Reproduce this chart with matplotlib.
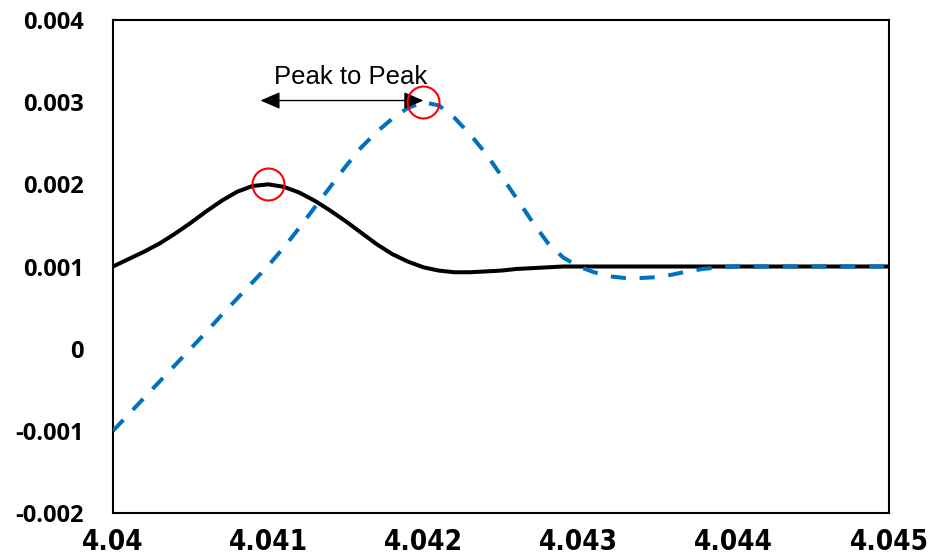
import matplotlib
matplotlib.use("Agg")
import matplotlib.pyplot as plt

# Time axis (s) and responses
t_ref = [4.0400, 4.0401, 4.0402, 4.0403, 4.0404, 4.0405, 4.0406, 4.0407, 4.0408,
         4.0409, 4.0410, 4.0411, 4.0412, 4.0413, 4.0414, 4.0415, 4.0416, 4.0417,
         4.0418, 4.0419, 4.0420, 4.0421, 4.0422, 4.0423, 4.0424, 4.0425, 4.0426,
         4.0427, 4.0428, 4.0429, 4.0430, 4.0450]
y_ref = [0.00100, 0.00109, 0.00118, 0.00128, 0.00140, 0.00153, 0.00167, 0.00180,
         0.00191, 0.00198, 0.00200, 0.00197, 0.00190, 0.00180, 0.00168, 0.00155,
         0.00141, 0.00127, 0.00115, 0.00106, 0.00099, 0.00095, 0.00093, 0.00093,
         0.00094, 0.00095, 0.00097, 0.00098, 0.00099, 0.00100, 0.00100, 0.00100]

t_resp = [4.0400, 4.0401, 4.0402, 4.0403, 4.0404, 4.0405, 4.0406, 4.0407, 4.0408,
          4.0409, 4.0410, 4.0411, 4.0412, 4.0413, 4.0414, 4.0415, 4.0416, 4.0417,
          4.0418, 4.0419, 4.0420, 4.0421, 4.0422, 4.0423, 4.0424, 4.0425, 4.0426,
          4.0427, 4.0428, 4.0429, 4.0430, 4.0431, 4.0432, 4.0433, 4.0434, 4.0435,
          4.0436, 4.0437, 4.0438, 4.0439, 4.0440, 4.0450]
y_resp = [-0.00100, -0.00080, -0.00060, -0.00040, -0.00020, 0.00000, 0.00020,
          0.00041, 0.00061, 0.00081, 0.00101, 0.00123, 0.00147, 0.00172, 0.00197,
          0.00222, 0.00245, 0.00264, 0.00280, 0.00293, 0.00300, 0.00296, 0.00281,
          0.00261, 0.00238, 0.00211, 0.00183, 0.00155, 0.00129, 0.00111, 0.00100,
          0.00093, 0.00088, 0.00086, 0.00086, 0.00087, 0.00090, 0.00094, 0.00097,
          0.00099, 0.00100, 0.00100]

# Peak locations
peaks_t = [4.041, 4.042]
peaks_y = [0.002, 0.003]

x_ticks = [4.040, 4.041, 4.042, 4.043, 4.044, 4.045]
x_labels = ["4.04", "4.041", "4.042", "4.043", "4.044", "4.045"]
y_ticks = [-0.002, -0.001, 0.0, 0.001, 0.002, 0.003, 0.004]
y_labels = ["-0.002", "-0.001", "0", "0.001", "0.002", "0.003", "0.004"]

fig = plt.figure(figsize=(9.29, 5.57), dpi=100)
ax = fig.add_axes([113 / 929, 1 - 513 / 557, (889 - 113) / 929, (513 - 20) / 557])

ax.plot(t_ref, y_ref, color="black", lw=2.9, solid_capstyle="butt",
        solid_joinstyle="round", zorder=3)
ax.plot(t_resp, y_resp, color="#0070C0", lw=2.9, dashes=(3.75, 3.4),
        dash_capstyle="butt", dash_joinstyle="round", zorder=4)

ax.plot(peaks_t, peaks_y, linestyle="none", marker="o", markersize=23,
        markerfacecolor="none", markeredgecolor="#FF0000", markeredgewidth=1.5,
        zorder=6)

ax.annotate("", xy=(4.042, 0.00302), xytext=(4.04095, 0.00302),
            arrowprops=dict(arrowstyle="<|-|>,head_length=0.6,head_width=0.26",
                            mutation_scale=20, lw=1.0, color="black",
                            shrinkA=0, shrinkB=0), zorder=5)
ax.text(4.04153, 0.003225, "Peak to Peak", ha="center", va="baseline",
        fontsize=18.5, family=["Liberation Sans", "DejaVu Sans"], zorder=5)

ax.set_xlim(4.040, 4.045)
ax.set_ylim(-0.002, 0.004)
ax.set_xticks(x_ticks)
ax.set_xticklabels(x_labels, fontsize=20, fontweight="bold",
                   fontstretch="condensed",
                   family=["DejaVu Sans Condensed", "DejaVu Sans"])
ax.set_yticks(y_ticks)
ax.set_yticklabels(y_labels, fontsize=17, fontweight="bold",
                   family=["Open Sans", "DejaVu Sans"])
ax.tick_params(axis="both", length=0)
ax.tick_params(axis="x", pad=11)
ax.tick_params(axis="y", pad=21)

for sp in ax.spines.values():
    sp.set_linewidth(1.5)
    sp.set_color("black")

fig.savefig("out.png", dpi=100)
